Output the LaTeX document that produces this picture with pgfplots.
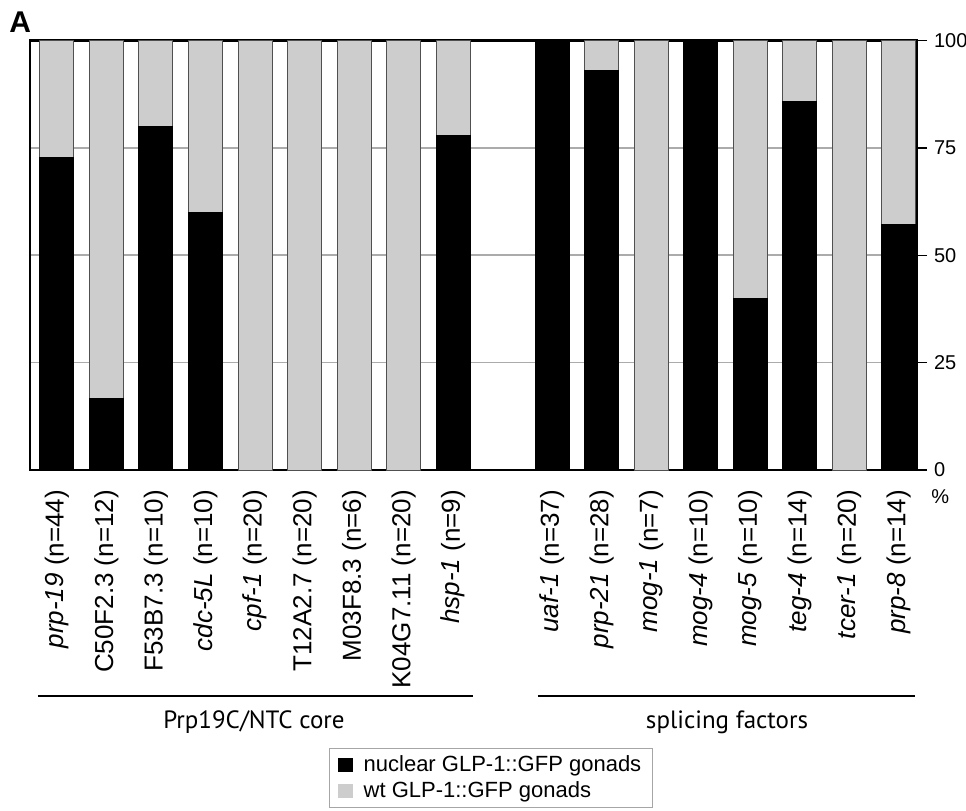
\documentclass[border=0pt]{standalone}
\usepackage{fontspec}
\setmainfont{Liberation Sans}
\newfontfamily\grpfont{PT Sans}
\usepackage{pgfplots}
\pgfplotsset{compat=1.18}
\definecolor{barg}{HTML}{CDCDCD}
\definecolor{gridg}{HTML}{ABABAB}
\definecolor{edgeg}{HTML}{505050}
\begin{document}
\begin{tikzpicture}
\begin{axis}[
  scale only axis, width=443.5pt, height=214.75pt,
  xmin=-0.545, xmax=17.37, ymin=0, ymax=100,
  ybar stacked, bar width=17pt,
  axis line style={line width=0.6pt},
  xtick={0,1,2,3,4,5,6,7,8,10,11,12,13,14,15,16,17},
  xticklabels={{\itshape prp-19\upshape{} (n=44)},{C50F2.3 (n=12)},{F53B7.3 (n=10)},{\itshape cdc-5L\upshape{} (n=10)},{\itshape cpf-1\upshape{} (n=20)},{T12A2.7 (n=20)},{M03F8.3 (n=6)},{K04G7.11 (n=20)},{\itshape hsp-1\upshape{} (n=9)},{\itshape uaf-1\upshape{} (n=37)},{\itshape prp-21\upshape{} (n=28)},{\itshape mog-1\upshape{} (n=7)},{\itshape mog-4\upshape{} (n=10)},{\itshape mog-5\upshape{} (n=10)},{\itshape teg-4\upshape{} (n=14)},{\itshape tcer-1\upshape{} (n=20)},{\itshape prp-8\upshape{} (n=14)}},
  x tick label style={rotate=90, anchor=east, font=\fontsize{13}{15}\selectfont, xshift=-1.5pt},
  xtick style={draw=none},
  ytick={0,25,50,75,100},
  ytick pos=right,
  tick align=outside,
  major tick length=5pt,
  ytick style={line width=0.7pt, black},
  y tick label style={font=\fontsize{10}{12}\selectfont},
  /pgf/number format/assume math mode=true,
  ymajorgrids, grid style={gridg, line width=0.8pt},
  clip=false,
  legend style={at={(rel axis cs:0.5197,-0.647)}, anchor=north, draw=gray!70, line width=0.5pt,
    font=\fontsize{11}{12}\selectfont, legend cell align=left,
    nodes={inner sep=1.5pt}, row sep=0.8pt, inner xsep=4pt, inner ysep=2pt,
    /tikz/every odd column/.append style={column sep=4pt}},
  legend image code/.code={\fill[#1, draw=none] (0pt,-3.5pt) rectangle (7.5pt,3.5pt);},
]
\addplot[fill=black, draw=black, line width=0.5pt] coordinates {
(0,72.7) (1,16.7) (2,80) (3,60) (4,0) (5,0) (6,0) (7,0) (8,77.8)
(10,100) (11,92.9) (12,0) (13,100) (14,40) (15,85.7) (16,0) (17,57.1)};
\addplot[fill=barg, draw=edgeg, line width=0.5pt] coordinates {
(0,27.3) (1,83.3) (2,20) (3,40) (4,100) (5,100) (6,100) (7,100) (8,22.2)
(10,0) (11,7.1) (12,100) (13,0) (14,60) (15,14.3) (16,100) (17,42.9)};
\legend{nuclear GLP-1::GFP gonads, wt GLP-1::GFP gonads}
\draw[line width=1.2pt] (rel axis cs:0,0) rectangle (rel axis cs:1,1);
\draw[line width=1pt] (rel axis cs:0.009,-0.526) -- (rel axis cs:0.4994,-0.526);
\draw[line width=1pt] (rel axis cs:0.5727,-0.526) -- (rel axis cs:0.9977,-0.526);
\node[anchor=base, font=\grpfont\fontsize{12.5}{14}\selectfont] at (rel axis cs:0.2525,-0.6007) {Prp19C/NTC core};
\node[anchor=base, font=\grpfont\fontsize{12.5}{14}\selectfont] at (rel axis cs:0.7858,-0.6007) {splicing factors};
\node[anchor=base west, inner sep=0pt, font=\fontsize{10}{12}\selectfont] at (rel axis cs:1.0158,-0.0768) {\%};
\node[anchor=base west, inner sep=0pt, font=\fontsize{15}{18}\selectfont\bfseries] at (rel axis cs:-0.0237,1.0175) {A};
\coordinate (bbsw) at (rel axis cs:-0.0338,-0.7916);
\coordinate (bbne) at (rel axis cs:1.0552,1.0943);
\end{axis}
\pgfresetboundingbox
\path[use as bounding box] (bbsw) rectangle (bbne);
\end{tikzpicture}
\end{document}
